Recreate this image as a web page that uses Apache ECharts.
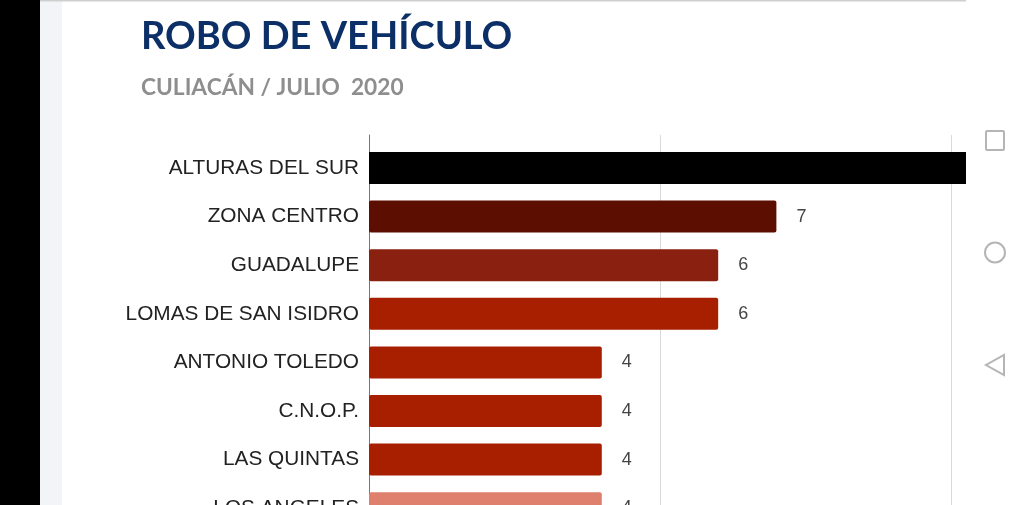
<!DOCTYPE html>
<html>
<head>
<meta charset="utf-8">
<title>Robo de vehículo</title>
<script src="https://cdn.jsdelivr.net/npm/echarts@6/dist/echarts.min.js"></script>
<style>
    html, body { margin: 0; padding: 0; background: #fff; }
    #main-chart { width: 1024px; height: 505px; }
</style>
</head>
<body>
<div id="main-chart"></div>
<script>
const categories = ['ALTURAS DEL SUR', 'ZONA CENTRO', 'GUADALUPE', 'LOMAS DE SAN ISIDRO', 'ANTONIO TOLEDO', 'C.N.O.P.', 'LAS QUINTAS', 'LOS ANGELES'];
// first bar runs off the page, its value is a guess
const values = [11, 7, 6, 6, 4, 4, 4, 4];
const barColors = ['#000000', '#5c0f00', '#8a2110', '#a81f00', '#a81f00', '#a81f00', '#a81f00', '#df7f6d'];
const hiddenLabels = ['ALTURAS DEL SUR'];

const chartDom = document.getElementById('main-chart');
const myChart = echarts.init(chartDom);

const xMax = 10.258;
const gridLeft = 369;
const gridWidth = 597;

const valueAxis = {
    type: 'value',
    min: 0,
    max: xMax,
    interval: 5,
    axisLabel: { show: false },
    axisLine: { show: false },
    axisTick: { show: false },
    splitLine: { show: true, showMinLine: false, showMaxLine: false, lineStyle: { color: '#d9d9d9', width: 1 } }
};

const option = {
    animation: false,
    backgroundColor: '#ffffff',
    title: [
        {
            text: 'ROBO DE VEHÍCULO',
            left: 136,
            top: 13,
            textStyle: { fontFamily: 'Lato', fontWeight: 'bold', fontSize: 38, color: '#0b2f66' }
        },
        {
            text: 'CULIACÁN / JULIO  2020',
            left: 136,
            top: 71,
            textStyle: { fontFamily: 'Lato', fontWeight: 'bold', fontSize: 22.7, color: '#8e8e8e' }
        }
    ],
    grid: [
        // last band hangs below the page, 8 bands of 48.6px
        { left: gridLeft, top: 143.7, width: gridWidth, height: 48.6 * categories.length, outerBoundsMode: 'none' },
        // short stub so the axis line starts above the first band
        { left: gridLeft, top: 135, width: gridWidth, height: 8.7, outerBoundsMode: 'none' }
    ],
    xAxis: [
        Object.assign({ gridIndex: 0 }, valueAxis),
        Object.assign({ gridIndex: 1 }, valueAxis)
    ],
    yAxis: [
        {
            gridIndex: 0,
            type: 'category',
            inverse: true,
            data: categories,
            axisLine: { show: true, lineStyle: { color: '#777777', width: 1 } },
            axisTick: { show: false },
            axisLabel: { margin: 10, fontFamily: 'Liberation Sans', fontSize: 20.8, color: '#222222' }
        },
        {
            gridIndex: 1,
            type: 'category',
            data: [''],
            axisLine: { show: true, lineStyle: { color: '#777777', width: 1 } },
            axisTick: { show: false },
            axisLabel: { show: false }
        }
    ],
    series: [
        {
            type: 'bar',
            xAxisIndex: 0,
            yAxisIndex: 0,
            barWidth: 32,
            clip: true,
            data: values.map((v, i) => ({
                value: v,
                itemStyle: { color: barColors[i], borderRadius: i === 0 ? 0 : 2 },
                label: { show: !hiddenLabels.includes(categories[i]) }
            })),
            label: {
                show: true,
                position: 'right',
                distance: 20,
                fontFamily: 'Liberation Sans',
                fontSize: 18,
                color: '#444444'
            }
        }
    ],
    graphic: [
        { type: 'rect', silent: true, z: -10, shape: { x: 0, y: 0, width: 40, height: 505 }, style: { fill: '#000000' } },
        { type: 'rect', silent: true, z: -10, shape: { x: 40, y: 0, width: 22, height: 505 }, style: { fill: '#f2f4f7' } },
        { type: 'rect', silent: true, z: -10, shape: { x: 40, y: 0, width: 926, height: 1.5 }, style: { fill: '#cfcfcf' } },
        { type: 'rect', silent: true, shape: { x: 986, y: 131, width: 18, height: 19, r: 1 }, style: { fill: 'none', stroke: '#b5b5b5', lineWidth: 2 } },
        { type: 'circle', silent: true, shape: { cx: 995, cy: 252.5, r: 10 }, style: { fill: 'none', stroke: '#b5b5b5', lineWidth: 2 } },
        { type: 'polygon', silent: true, shape: { points: [[1004, 355], [1004, 375], [986, 365]] }, style: { fill: 'none', stroke: '#b5b5b5', lineWidth: 2 } }
    ]
};
myChart.setOption(option);
</script>
</body>
</html>
